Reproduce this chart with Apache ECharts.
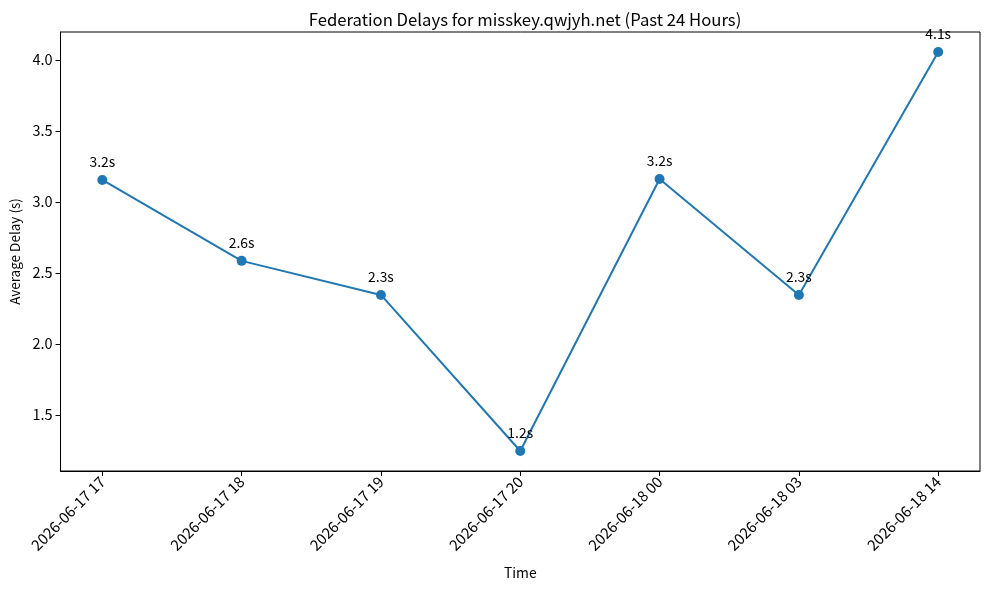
<!DOCTYPE html>
<html>
<head>
<meta charset="utf-8">
<script src="https://cdn.jsdelivr.net/npm/echarts@6/dist/echarts.min.js"></script>
<style>
  html, body { margin: 0; padding: 0; background: #fff; }
  #main { width: 989px; height: 590px; }
</style>
</head>
<body>
<div id="main"></div>
<script>
// 时间段标签
var timeLabels = ['2026-06-17 17', '2026-06-17 18', '2026-06-17 19', '2026-06-17 20',
                  '2026-06-18 00', '2026-06-18 03', '2026-06-18 14'];
// 平均延迟(秒)
var delays = [3.155, 2.585, 2.345, 1.246, 3.162, 2.345, 4.056];
var yTicks = [1.5, 2.0, 2.5, 3.0, 3.5, 4.0];
var xTicks = [0, 1, 2, 3, 4, 5, 6];

var font = '"Noto Sans CJK JP", "DejaVu Sans", sans-serif';
var pts = [];
for (var i = 0; i < delays.length; i++) {
    pts.push([i, delays[i]]);
}

var myChart = echarts.init(document.getElementById('main'));
var option = {
    animation: false,
    textStyle: { fontFamily: font },
    title: {
        text: 'Federation Delays for misskey.qwjyh.net (Past 24 Hours)',
        left: 520, top: 6, textAlign: 'center',
        textStyle: { fontFamily: font, fontSize: 16.7, fontWeight: 'normal', color: '#000' }
    },
    grid: {
        left: 60, right: 9, top: 32, bottom: 119,
        show: true, borderColor: '#000', borderWidth: 1
    },
    xAxis: {
        type: 'value',
        min: -0.3, max: 6.3,
        name: 'Time', nameLocation: 'middle', nameGap: 95,
        nameTextStyle: { fontFamily: font, fontSize: 13.9, color: '#000' },
        axisLine: { show: true, onZero: false, lineStyle: { color: '#000', width: 1 } },
        axisTick: { show: true, customValues: xTicks, length: 5, lineStyle: { color: '#000' } },
        splitLine: { show: false },
        axisLabel: {
            customValues: xTicks, rotate: 45, margin: 8,
            fontFamily: font, fontSize: 15, color: '#000',
            formatter: function (v) { return timeLabels[Math.round(v)]; }
        }
    },
    yAxis: {
        type: 'value',
        min: 1.105, max: 4.197,
        name: 'Average Delay (s)', nameLocation: 'middle', nameGap: 36,
        nameTextStyle: { fontFamily: font, fontSize: 13.5, color: '#000' },
        axisLine: { show: true, onZero: false, lineStyle: { color: '#000', width: 1 } },
        axisTick: { show: true, customValues: yTicks, length: 5, lineStyle: { color: '#000' } },
        splitLine: { show: false },
        axisLabel: {
            customValues: yTicks, margin: 8,
            fontFamily: font, fontSize: 14.5, color: '#000',
            formatter: function (v) { return v.toFixed(1); }
        }
    },
    series: [
        {
            type: 'line',
            data: pts,
            symbol: 'circle', symbolSize: 10,
            itemStyle: { color: '#1f77b4' },
            lineStyle: { color: '#1f77b4', width: 2 },
            label: {
                show: true, position: 'top', distance: 6,
                fontFamily: font, fontSize: 13.9, color: '#000',
                formatter: function (p) { return p.value[1].toFixed(1) + 's'; }
            }
        }
    ]
};
myChart.setOption(option);
</script>
</body>
</html>
